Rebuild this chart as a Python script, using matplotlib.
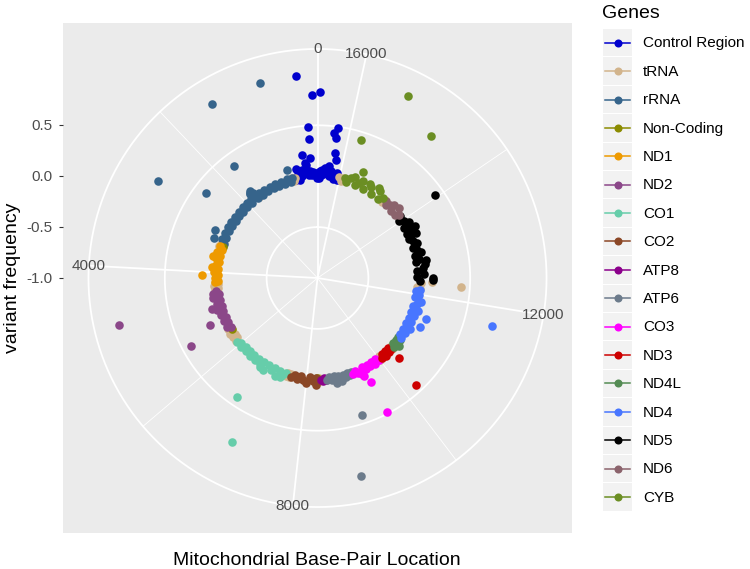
import numpy as np
import matplotlib.pyplot as plt
from matplotlib.legend_handler import HandlerBase
from matplotlib.lines import Line2D
from matplotlib.patches import Rectangle

plt.rcParams['font.family'] = ['Liberation Sans', 'DejaVu Sans']

# mtDNA length used for the angle scale
genome_length = 16569

gene_names = ['Control Region', 'tRNA', 'rRNA', 'Non-Coding', 'ND1', 'ND2', 'CO1', 'CO2',
              'ATP8', 'ATP6', 'CO3', 'ND3', 'ND4L', 'ND4', 'ND5', 'ND6', 'CYB']
gene_colors = ['#0000CD', '#D2B48C', '#36648B', '#8B8B00', '#EE9A00', '#8B4789', '#66CDAA',
               '#8B4726', '#8B008B', '#6C7B8B', '#FF00FF', '#CD0000', '#548B54', '#4876FF',
               '#000000', '#8B636C', '#6B8E23']

# variant positions (bp) and frequencies, per gene
control_pos = [16030, 16060, 16090, 16130, 16155, 16170, 16210, 16210, 16221, 16240,
               16263, 16270, 16306, 16330, 16360, 16390, 16420, 16450, 16480, 16510,
               16531, 16540, 16565, 15, 50, 81, 100, 130, 159, 161,
               164, 190, 220, 261, 276, 295, 300, 325, 350, 380,
               410, 440, 470, 507, 530, 560]
control_freq = [0.01, -0.02, 0.05, 0.02, 0.17, -0.02, 0.49, 0.24, 0.39, 0.06,
                0.435, 0.01, 0.105, 0.07, 0.04, 0.08, 0.02, 0.06, 0.01, 0.05,
                0.83, -0.02, 0.02, -0.02, 0.03, 0.80, 0.04, 0.01, 0.18, 0.49,
                0.37, 0.05, 0.02, 0.12, 1.00, 0.14, 0.06, 0.215, 0.04, 0.07,
                0.01, 0.05, -0.02, 0.09, 0.02, -0.02]

trna_pos = [590, 620, 645, 1610, 1640, 1665, 3240, 3270, 3300, 4270,
            4310, 4350, 4400, 4440, 5520, 5580, 5640, 5700, 5760, 5820,
            5880, 7460, 7500, 7540, 7580, 8300, 8330, 8360, 10000, 10040,
            10415, 10455, 12150, 12200, 12257, 12290, 12330, 14690, 14730, 15900,
            15950, 16010]
trna_freq = [0.01, -0.02, 0.015, 0.01, -0.02, 0.015, 0.01, -0.02, 0.015, 0.01,
             -0.02, 0.015, -0.02, 0.01, 0.01, -0.02, 0.015, -0.02, 0.01, -0.02,
             0.015, 0.01, -0.02, 0.015, -0.02, 0.01, -0.02, 0.015, 0.01, -0.02,
             0.01, -0.02, 0.01, -0.02, 0.41, 0.02, 0.13, 0.01, -0.02, 0.01,
             -0.02, 0.015]

rrna_pos = [660, 700, 728, 758, 800, 880, 960, 1040, 1120, 1200,
            1280, 1360, 1441, 1450, 1530, 1580, 1680, 1694, 1720, 1750,
            1768, 1790, 1830, 1900, 1980, 2060, 2140, 2220, 2300, 2380,
            2416, 2460, 2540, 2620, 2701, 2700, 2780, 2860, 2940, 2996,
            3050, 3120, 3181, 3220]
rrna_freq = [0.01, -0.02, 0.10, 1.00, 0.015, -0.02, 0.01, -0.02, 0.015, -0.02,
             0.01, -0.02, 1.00, 0.01, -0.02, 0.015, -0.02, 0.37, 0.05, 0.08,
             0.07, 0.06, 0.015, -0.02, 0.01, -0.02, 0.015, -0.02, 0.01, -0.02,
             0.375, 0.01, -0.02, 0.015, 0.83, -0.02, 0.01, -0.02, 0.015, 0.115,
             -0.02, 0.015, 0.09, -0.02]

noncoding_pos = [3305, 5570, 8280]
noncoding_freq = [-0.02, -0.02, -0.02]

nd1_pos = [3320, 3400, 3480, 3560, 3590, 3640, 3720, 3800, 3878, 3900, 3980, 4060, 4082, 4140, 4220, 4250]
nd1_freq = [0.01, -0.02, 0.015, -0.02, 0.047, 0.015, -0.02, 0.01, 0.045, -0.02, 0.015, -0.02, 0.138, 0.01, -0.02, 0.01]

nd2_pos = [4480, 4543, 4560, 4640, 4720, 4755, 4800, 4880, 4892, 4960,
           5040, 5120, 5200, 5224, 5280, 5360, 5440, 5449, 5500]
nd2_freq = [0.01, 0.036, -0.02, 0.05, -0.02, 1.00, 0.015, -0.02, 0.083, 0.04,
            -0.02, 0.015, -0.02, 0.15, 0.015, -0.02, 0.01, 0.415, -0.02]

co1_pos = [5920, 6000, 6080, 6160, 6240, 6320, 6400, 6480, 6560, 6640,
           6707, 6720, 6766, 6800, 6880, 6960, 7015, 7040, 7120, 7200,
           7280, 7318, 7360, 7430]
co1_freq = [0.01, -0.02, 0.015, -0.02, 0.01, -0.02, 0.015, -0.02, 0.01, -0.02,
            0.41, 0.015, 0.04, -0.02, 0.05, -0.02, 0.82, 0.015, -0.02, 0.05,
            -0.02, 0.04, 0.01, -0.02]

co2_pos = [7600, 7680, 7760, 7840, 7920, 8000, 8080, 8160, 8237, 8250]
co2_freq = [0.01, -0.02, 0.015, -0.02, 0.015, 0.04, -0.02, 0.01, 0.054, -0.02]

atp8_pos = [8380, 8420, 8460, 8500]
atp8_freq = [0.0, 0.015, -0.02, 0.01]

atp6_pos = [8540, 8600, 8660, 8720, 8758, 8780, 8840, 8855, 8900, 8960, 9020, 9080, 9113, 9140, 9200]
atp6_freq = [0.01, -0.02, 0.015, -0.02, 0.05, 0.01, -0.02, 0.99, 0.04, -0.02, 0.015, -0.02, 0.41, 0.01, -0.02]

co3_pos = [9220, 9290, 9360, 9430, 9463, 9500, 9536, 9546, 9570, 9640, 9710, 9780, 9850, 9920, 9980]
co3_freq = [0.01, -0.02, 0.015, 0.04, 0.066, -0.02, 0.148, 0.48, 0.015, -0.02, 0.01, -0.02, 0.015, -0.02, 0.01]

nd3_pos = [10070, 10130, 10190, 10241, 10250, 10310, 10370, 10380, 10400]
nd3_freq = [0.01, -0.02, 0.015, 0.43, -0.02, 0.015, -0.02, 0.116, 0.01]

nd4l_pos = [10480, 10540, 10600, 10660, 10720, 10760]
nd4l_freq = [0.01, -0.02, 0.04, -0.02, 0.015, -0.02]

nd4_pos = [10780, 10860, 10940, 11020, 11100, 11180, 11262, 11270, 11350, 11430,
           11474, 11510, 11590, 11670, 11727, 11750, 11830, 11910, 11990, 12070, 12130]
nd4_freq = [0.01, -0.02, 0.015, -0.02, 0.04, -0.02, 0.115, 0.01, -0.02, 0.015,
            0.137, -0.02, 0.04, -0.02, 0.78, 0.01, 0.04, -0.02, 0.015, -0.02, 0.01]

nd5_pos = [12350, 12390, 12419, 12440, 12520, 12600, 12680, 12760, 12840, 12870,
           12920, 13000, 13080, 13160, 13240, 13320, 13400, 13480, 13565, 13560,
           13640, 13720, 13730, 13800, 13880, 13960, 14043, 14040, 14120]
nd5_freq = [0.01, 0.135, 0.13, -0.02, 0.05, -0.02, 0.04, 0.06, -0.02, 0.08,
            0.015, -0.02, 0.05, 0.015, -0.02, 0.04, 0.01, -0.02, 0.06, 0.015,
            -0.02, 0.09, 0.04, -0.02, 0.05, 0.015, 0.41, -0.02, 0.015]

nd6_pos = [14160, 14230, 14300, 14370, 14440, 14510, 14580, 14650]
nd6_freq = [0.015, -0.02, 0.05, -0.02, 0.04, 0.01, -0.02, 0.015]

cyb_pos = [14760, 14788, 14840, 14920, 15000, 15080, 15160, 15240, 15320, 15345,
           15400, 15480, 15491, 15560, 15640, 15720, 15766, 15800, 15870]
cyb_freq = [0.015, 0.79, -0.02, 0.05, 0.07, -0.02, 0.04, 0.06, -0.02, 0.995,
            0.05, 0.015, 0.13, -0.02, 0.06, 0.04, 0.425, -0.02, 0.015]

gene_pos = [control_pos, trna_pos, rrna_pos, noncoding_pos, nd1_pos, nd2_pos, co1_pos, co2_pos,
            atp8_pos, atp6_pos, co3_pos, nd3_pos, nd4l_pos, nd4_pos, nd5_pos, nd6_pos, cyb_pos]
gene_freq = [control_freq, trna_freq, rrna_freq, noncoding_freq, nd1_freq, nd2_freq, co1_freq,
             co2_freq, atp8_freq, atp6_freq, co3_freq, nd3_freq, nd4l_freq, nd4_freq, nd5_freq,
             nd6_freq, cyb_freq]

theta_major = [0, 4000, 8000, 12000, 16000]
theta_minor = [2000, 6000, 10000, 14000]
r_breaks = [-1.0, -0.5, 0.0, 0.5]
r_labels = ['-1.0', '-0.5', '0.0', '0.5']
r_min, r_max = -1.0, 1.0


def to_theta(bp):
    return np.asarray(bp, dtype=float) / genome_length * 2 * np.pi


# ggplot-like polar panel: data fill radius 0.4, outer ring at 0.45 of the panel
r_outer = r_min + (r_max - r_min) * 0.45 / 0.4
r_edge = r_min + (r_max - r_min) * 0.5 / 0.4

fig = plt.figure(figsize=(7.5, 5.69), dpi=100)
panel = [63 / 750, 36 / 569, 509 / 750, 510 / 569]

# grey panel + radial axis ticks on the left
bg = fig.add_axes(panel)
bg.set_facecolor('#EBEBEB')
for s in bg.spines.values():
    s.set_visible(False)
bg.set_xticks([])
bg.set_xlim(0, 1)
bg.set_ylim(r_min - (r_edge - r_min), r_edge)
bg.set_yticks(r_breaks)
bg.set_yticklabels(r_labels)
bg.tick_params(axis='y', length=3.2, width=0.8, color='#333333', labelcolor='#4D4D4D',
               labelsize=11, pad=4.3)

ax = fig.add_axes(panel, projection='polar')
ax.set_facecolor('none')
ax.set_theta_zero_location('N')
ax.set_theta_direction(1)
ax.grid(False)
ax.set_xticks([])
ax.set_yticks([])
ax.spines['polar'].set_visible(False)

ring = np.linspace(0, 2 * np.pi, 721)
for r in [-0.5, 0.0, 0.5, r_outer]:
    ax.plot(ring, np.full_like(ring, r), color='white', lw=1.3, zorder=1)
for b in theta_minor:
    ax.plot([to_theta(b)] * 2, [r_min, r_outer], color='white', lw=0.6, zorder=1)
for b in theta_major:
    ax.plot([to_theta(b)] * 2, [r_min, r_outer], color='white', lw=1.3, zorder=1)
for b in theta_major:
    ax.text(to_theta(b), r_outer, str(b), ha='center', va='center', fontsize=11,
            color='#4D4D4D', clip_on=False, zorder=5)

for name, col, p, f in zip(gene_names, gene_colors, gene_pos, gene_freq):
    ax.scatter(to_theta(p), f, s=38, color=col, linewidths=0, zorder=3)

ax.set_ylim(r_min, r_edge)

fig.text(17 / 750, 1 - 278 / 569, 'variant frequency', rotation=90, rotation_mode='anchor',
         ha='center', va='baseline', fontsize=14)
fig.text(317 / 750, 1 - 565 / 569, 'Mitochondrial Base-Pair Location', ha='center',
         va='baseline', fontsize=14)


class GreyKey(HandlerBase):
    def create_artists(self, legend, orig_handle, xdescent, ydescent, width, height, fontsize, trans):
        x0, y0 = -xdescent, -ydescent
        ym = y0 + height / 2
        col = orig_handle.get_color()
        box = Rectangle((x0, y0), width, height, facecolor='#F2F2F2', edgecolor='none', transform=trans)
        seg = Line2D([x0 + 0.07 * width, x0 + 0.93 * width], [ym, ym], color=col, lw=1.1, transform=trans)
        dot = Line2D([x0 + width / 2], [ym], marker='o', markersize=5.8, color=col,
                     linestyle='none', markeredgewidth=0, transform=trans)
        return [box, seg, dot]


handles = [Line2D([], [], color=c) for c in gene_colors]
fig.text(602 / 750, 1 - 18 / 569, 'Genes', ha='left', va='baseline', fontsize=14)
fig.legend(handles, gene_names, handler_map={Line2D: GreyKey()}, loc='upper left',
           bbox_to_anchor=(603 / 750, 1 - 29 / 569), frameon=False, fontsize=11,
           borderpad=0, borderaxespad=0, handlelength=1.9, handleheight=2.39,
           labelspacing=0.06, handletextpad=0.72)

fig.savefig('out.png', dpi=100)
